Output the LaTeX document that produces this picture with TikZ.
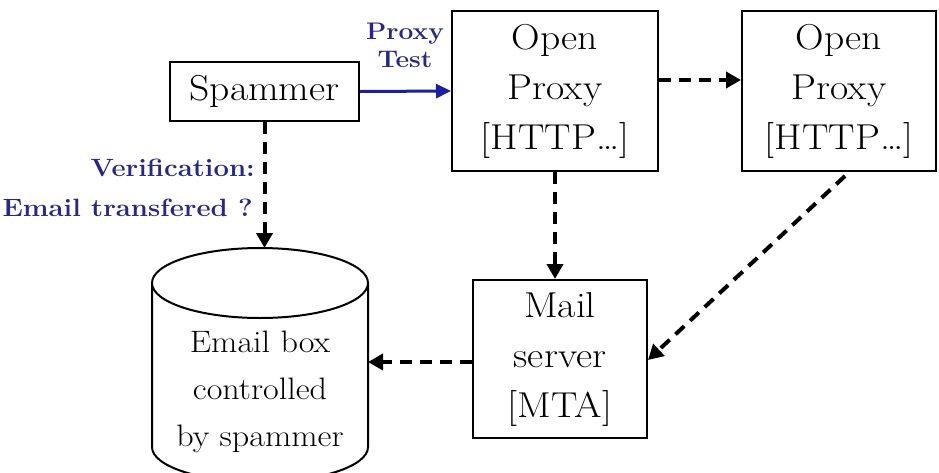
\documentclass[tikz,border=0pt]{standalone}
\usepackage{fontspec}
\setmainfont{Latin Modern Roman}[FakeStretch=1.1]
\usetikzlibrary{arrows.meta,calc}
\definecolor{lblblue}{RGB}{40,40,130}
\definecolor{arrblue}{RGB}{30,30,160}
\begin{document}
\begin{tikzpicture}[x=1pt,y=-1pt,
  boxnode/.style={draw=black,line width=2pt,align=center,inner sep=0pt,
    font=\fontsize{36}{50}\selectfont},
  dasharrow/.style={line width=4pt,dash pattern=on 12pt off 8pt,
    -{Triangle[length=15pt,width=16pt]}},
  bluearrow/.style={arrblue,line width=3pt,-{Triangle[length=15pt,width=14pt]}},
  lbl/.style={lblblue,font=\fontsize{25}{27}\selectfont\bfseries,inner sep=0pt}]
\useasboundingbox (0,0) rectangle (939,472);
\fill[white] (0,0) rectangle (939,472);
% nodes
\node[boxnode,minimum width=189pt,minimum height=59pt] (spam) at (264.5,91.5) {Spammer};
\node[boxnode,minimum width=206pt,minimum height=160pt] (p1) at (555,91) {Open\\Proxy\\[0pt][HTTP\ldots]};
\node[boxnode,minimum width=194pt,minimum height=160pt] (p2) at (839,91) {Open\\Proxy\\[0pt][HTTP\ldots]};
\node[boxnode,minimum width=174pt,minimum height=158pt] (m) at (560,359) {Mail\\server\\[0pt][MTA]};
% cylinder
\begin{scope}
\clip (0,0) rectangle (939,472);
\draw[line width=2pt,fill=white] (152,283) -- (152,447) arc[start angle=180,end angle=360,x radius=108,y radius=-35] -- (368,283);
\draw[line width=2pt,fill=white] (260,283) ellipse[x radius=108,y radius=35];
\end{scope}
\node[align=center,inner sep=0pt,font=\fontsize{31}{47}\selectfont] (cyl) at (260,392) {Email box\\controlled\\by spammer};
\coordinate (cyltop) at (264.5,248);
\coordinate (cyleast) at (368,362);
% connectors
\draw[bluearrow] (spam.east) -- (p1.west);
\draw[dasharrow] (spam.south) -- (cyltop);
\draw[dasharrow] ($(p1.east)+(0,-11)$) -- ($(p2.west)+(0,-11)$);
\draw[dasharrow] (p1.south) -- (p1.south |- m.north);
\draw[dasharrow] ($(p2.south)+(6,4)$) -- ($(m.east)+(0,1)$);
\draw[dasharrow] (m.west |- cyleast) -- (cyleast);
% labels
\node[lbl,align=center,font=\fontsize{24}{28}\selectfont\bfseries] (ptest) at (405,45) {Proxy\\Test};
\node[lbl,anchor=base east] (ver) at (255,176) {Verification:};
\node[lbl,anchor=base east] (etr) at (253,216) {Email transfered ?};
\end{tikzpicture}
\end{document}
